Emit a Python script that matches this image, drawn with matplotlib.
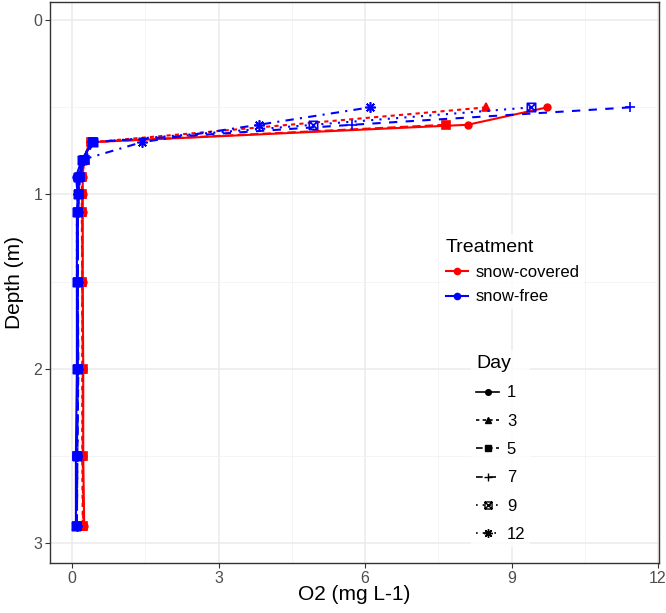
import numpy as np
import matplotlib
matplotlib.use("Agg")
import matplotlib.pyplot as plt
from matplotlib.lines import Line2D
from matplotlib.path import Path

plt.rcParams['font.family'] = ['Liberation Sans', 'DejaVu Sans']

### DATA ###
depth = [0.5, 0.6, 0.7, 0.8, 0.9, 1.0, 1.1, 1.5, 2.0, 2.5, 2.9]
days = ['1', '3', '5', '7', '9', '12']
treatments = ['snow-covered', 'snow-free']

# snow-covered (red)
cov_day1 = [9.73, 8.10, 0.36, 0.24, 0.22, 0.22, 0.22, 0.22, 0.23, 0.23, 0.25]
cov_day3 = [8.48, None, 0.40, 0.26, 0.20, 0.20, 0.20, 0.21, 0.21, 0.21, 0.22]
cov_day5 = [None, 7.65, 0.38, 0.25, 0.21, 0.21, 0.21, 0.21, 0.22, 0.22, 0.23]

# snow-free (blue)
free_day1 = [None, None, 0.42, 0.20, 0.08, 0.12, 0.10, 0.10, 0.10, 0.08, 0.08]
free_day3 = [None, None, 0.40, 0.22, 0.12, 0.14, 0.12, 0.12, 0.12, 0.10, 0.10]
free_day5 = [None, None, 0.44, 0.26, 0.16, 0.15, 0.12, 0.12, 0.13, 0.11, 0.10]
free_day7 = [11.43, 5.74, 0.40, 0.22, 0.14, 0.14, 0.12, 0.12, 0.12, 0.10, 0.10]
free_day9 = [9.40, 4.94, 0.42, 0.20, 0.12, 0.12, 0.10, 0.10, 0.11, 0.10, 0.09]
free_day12 = [6.10, 3.82, 1.43, 0.22, 0.15, 0.13, 0.12, 0.12, 0.12, 0.11, 0.10]

### STYLES ###
colors = {'snow-covered': '#FF0000', 'snow-free': '#0000FF'}

# square with a cross (ggplot shape 7)
boxx = Path([(-1, -1), (1, -1), (1, 1), (-1, 1), (-1, -1),
             (-1, -1), (1, 1), (-1, 1), (1, -1)],
            [Path.MOVETO, Path.LINETO, Path.LINETO, Path.LINETO, Path.CLOSEPOLY,
             Path.MOVETO, Path.LINETO, Path.MOVETO, Path.LINETO])

day_style = {
    '1': dict(ls='-', marker='o', ms=4.8, mfc=None),
    '3': dict(ls=(0, (2, 2)), marker='^', ms=5.5, mfc=None),
    '5': dict(ls=(0, (4, 2)), marker='s', ms=5.2, mfc=None),
    '7': dict(ls=(0, (4, 4)), marker='+', ms=7.5, mfc=None),
    '9': dict(ls=(0, (1, 3)), marker=boxx, ms=6, mfc='none'),
    '12': dict(ls=(0, (1, 3, 4, 3)), marker=(8, 2, 0), ms=7.5, mfc=None),
}

series = [
    ('snow-covered', '1', cov_day1),
    ('snow-covered', '3', cov_day3),
    ('snow-covered', '5', cov_day5),
    ('snow-free', '1', free_day1),
    ('snow-free', '3', free_day3),
    ('snow-free', '5', free_day5),
    ('snow-free', '7', free_day7),
    ('snow-free', '9', free_day9),
    ('snow-free', '12', free_day12),
]

### PLOT ###
fig = plt.figure(figsize=(6.66, 6.13), dpi=100)
ax = fig.add_axes([0.0751, 0.0816, 0.9144, 0.9152])

for treat, day, vals in series:
    x = [v for v in vals if v is not None]
    y = [d for d, v in zip(depth, vals) if v is not None]
    st = day_style[day]
    c = colors[treat]
    ax.plot(x, y, color=c, lw=1.5, linestyle=st['ls'], marker=st['marker'],
            ms=st['ms'], mec=c, mew=1.2,
            mfc=c if st['mfc'] is None else st['mfc'])

ax.set_xlim(-0.45, 12.02)
ax.set_ylim(3.115, -0.105)

ax.set_xticks([0, 3, 6, 9, 12])
ax.set_xticks([1.5, 4.5, 7.5, 10.5], minor=True)
ax.set_yticks([0, 1, 2, 3])
ax.set_yticks([0.5, 1.5, 2.5], minor=True)

ax.set_axisbelow(True)
ax.grid(which='major', color='#EBEBEB', lw=1.1)
ax.grid(which='minor', color='#F2F2F2', lw=0.6)
for sp in ax.spines.values():
    sp.set_color('#333333')
    sp.set_linewidth(1.0)
ax.tick_params(which='major', length=3.5, width=0.8, color='#333333',
               labelsize=11.5, labelcolor='#4D4D4D', pad=2)
ax.tick_params(which='minor', length=0)

ax.set_xlabel('O2 (mg L-1)', fontsize=15)
ax.set_ylabel('Depth (m)', fontsize=15)
ax.xaxis.label.set_va('center')
ax.yaxis.label.set_va('center')
ax.xaxis.set_label_coords(0.5, -0.056)
ax.yaxis.set_label_coords(-0.059, 0.5)

# legends
treat_handles = [Line2D([], [], color=colors[t], lw=1.5, marker='o', ms=4.5)
                 for t in treatments]
leg1 = ax.legend(treat_handles, treatments, title='Treatment', loc='upper left',
                 bbox_to_anchor=(441 / 666, 1 - 234 / 613),
                 bbox_transform=fig.transFigure, fontsize=12, title_fontsize=14,
                 handlelength=1.3, handletextpad=0.45, labelspacing=0.55,
                 borderpad=0.3, borderaxespad=0, numpoints=1, fancybox=False)
leg1._legend_box.align = 'left'
leg1.get_frame().set_facecolor('white')
leg1.get_frame().set_edgecolor('none')
ax.add_artist(leg1)

day_handles = []
for d in days:
    st = day_style[d]
    day_handles.append(Line2D([], [], color='black', lw=1.2, linestyle=st['ls'],
                              marker=st['marker'], ms=st['ms'] * 0.85, mec='black',
                              mew=1.0, mfc='black' if st['mfc'] is None else st['mfc']))
leg2 = ax.legend(day_handles, days, title='Day', loc='upper left',
                 bbox_to_anchor=(471 / 666, 1 - 350 / 613),
                 bbox_transform=fig.transFigure, fontsize=12, title_fontsize=14,
                 handlelength=1.4, handletextpad=0.45, labelspacing=0.8,
                 borderpad=0.3, borderaxespad=0, numpoints=1, fancybox=False)
leg2._legend_box.align = 'left'
leg2.get_frame().set_facecolor('white')
leg2.get_frame().set_edgecolor('none')

fig.savefig('out.png', dpi=100)
